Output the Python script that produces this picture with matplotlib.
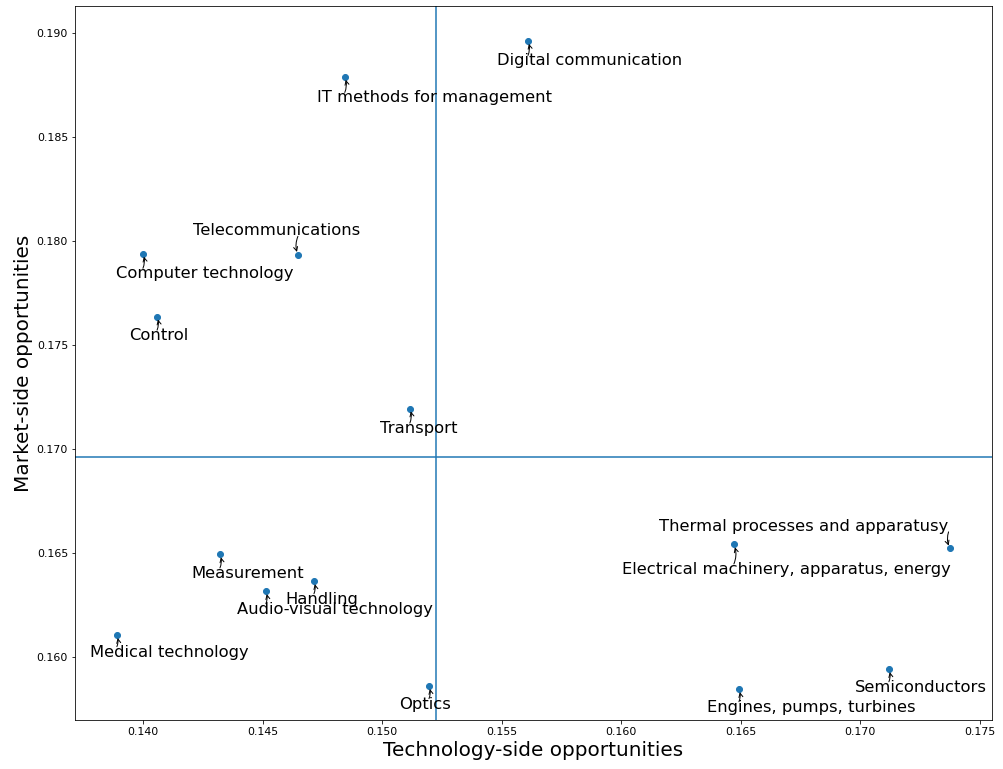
import numpy as np
import matplotlib.pyplot as plt

labels = ['Digital communication', 'IT methods for management', 'Telecommunications',
          'Computer technology', 'Control', 'Transport', 'Thermal processes and apparatusy',
          'Electrical machinery, apparatus, energy', 'Measurement', 'Handling',
          'Audio-visual technology', 'Medical technology', 'Optics',
          'Engines, pumps, turbines', 'Semiconductors']
tech = [0.15610, 0.14844, 0.14648, 0.14000, 0.14059, 0.15116, 0.17374,
        0.16471, 0.14322, 0.14715, 0.14514, 0.13891, 0.15196, 0.16492, 0.17119]
market = [0.18962, 0.18789, 0.17934, 0.17939, 0.17637, 0.17195, 0.16523,
          0.16542, 0.16494, 0.16365, 0.16317, 0.16106, 0.15861, 0.15846, 0.15942]

# label offsets in pixels (text centre relative to point)
offsets = [(62, -20), (90, -21), (-21, 24), (62, -20), (2, -19), (9, -20), (-146, 22),
           (53, -25), (28, -19), (8, -18), (69, -18), (52, -17), (-4, -18), (72, -18), (32, -18)]

fig = plt.figure(figsize=(1003 / 72, 769 / 72), dpi=72)
ax = fig.add_axes([0.0748, 0.0637, 0.9142, 0.9285])

ax.scatter(tech, market, zorder=3)
ax.axvline(np.mean(tech))
ax.axhline(np.mean(market))

texts = []
for lab, x, y, (dx, dy) in zip(labels, tech, market, offsets):
    t = ax.annotate(lab, xy=(x, y), xytext=(dx, dy), textcoords='offset pixels',
                    ha='center', va='center', fontsize=16.4)
    texts.append(t)

ax.set_xlim(0.13716, 0.1755)
ax.set_ylim(0.15698, 0.1913)
ax.set_xticks(np.arange(0.140, 0.1751, 0.005))
ax.set_yticks(np.arange(0.160, 0.1901, 0.005))
ax.tick_params(axis='both', labelsize=11)
ax.set_xlabel('Technology-side opportunities', fontsize=20)
ax.set_ylabel('Market-side opportunities', fontsize=20)

# arrows from the nearest edge of each label to its point
fig.canvas.draw()
r = fig.canvas.get_renderer()
inv = ax.transData.inverted()
for t, x, y in zip(texts, tech, market):
    bb = t.get_window_extent(r)
    px, py = ax.transData.transform((x, y))
    sx, sy = inv.transform((np.clip(px, bb.x0, bb.x1), np.clip(py, bb.y0 + 2, bb.y1 - 2)))
    ax.annotate('', xy=(x, y), xytext=(sx, sy),
                arrowprops=dict(arrowstyle='->', color='k', lw=1, shrinkA=0, shrinkB=3,
                                connectionstyle='arc3,rad=0.2'))

plt.savefig('out.png', dpi=72)
